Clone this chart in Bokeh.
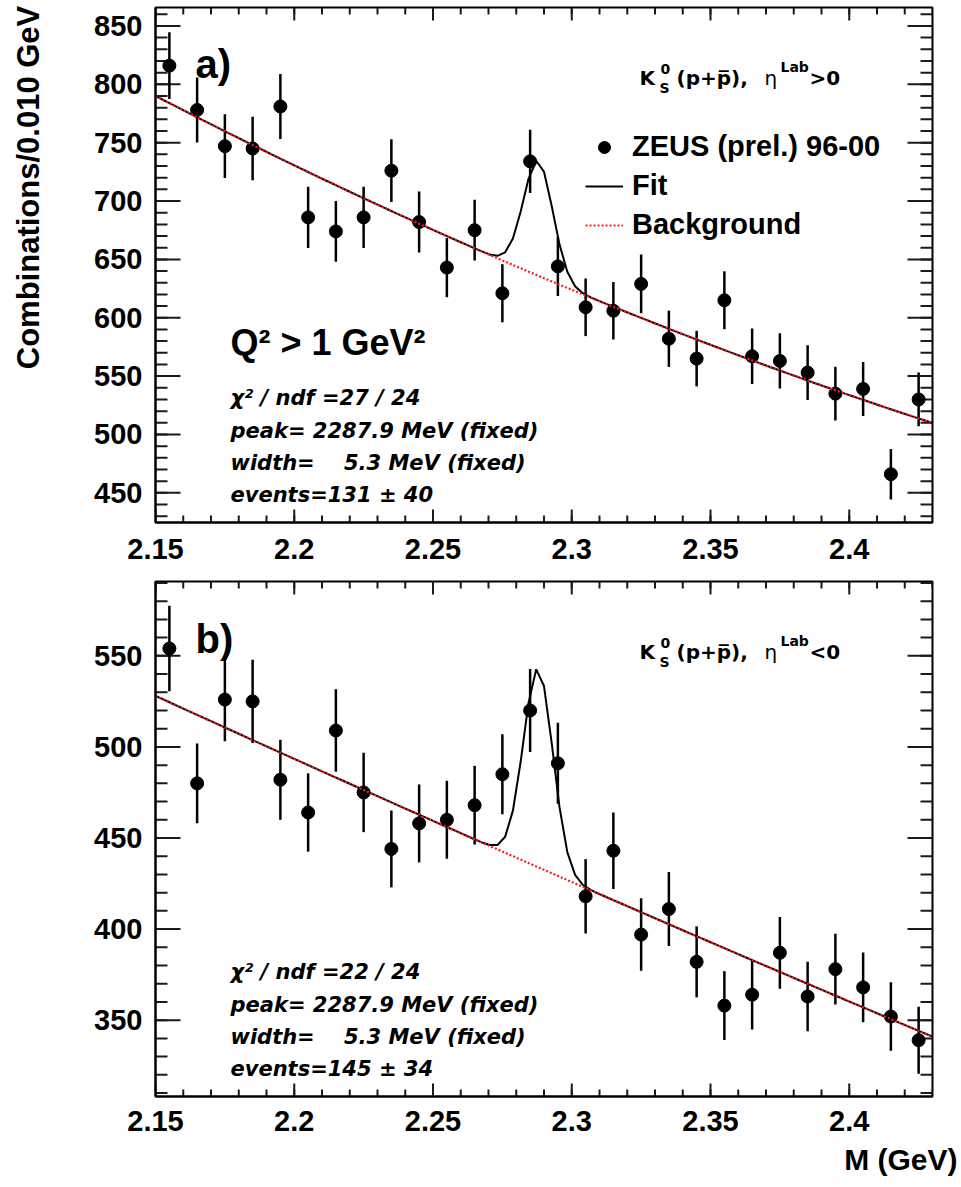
import math

import numpy as np
from bokeh.embed import file_html
from bokeh.layouts import column
from bokeh.models import (ColumnDataSource, CustomJSTickFormatter, FixedTicker, Label,
                          Legend, LegendItem, Range1d, Title)
from bokeh.plotting import figure
from bokeh.resources import INLINE

# ---------------------------------------------------------------------------
# K0S (p + pbar) invariant-mass distributions, 10 MeV bins (bin centres, GeV)
# ---------------------------------------------------------------------------
mass = [2.155, 2.165, 2.175, 2.185, 2.195, 2.205, 2.215, 2.225, 2.235, 2.245,
        2.255, 2.265, 2.275, 2.285, 2.295, 2.305, 2.315, 2.325, 2.335, 2.345,
        2.355, 2.365, 2.375, 2.385, 2.395, 2.405, 2.415, 2.425]

# panel a): eta_lab > 0
counts_fwd = [816, 778, 747, 745, 781, 686, 674, 686, 726, 682,
              643, 675, 621, 734, 644, 609, 606, 629, 582, 565,
              615, 567, 563, 553, 535, 539, 466, 530]
errors_fwd = [28.6, 27.9, 27.3, 27.3, 27.9, 26.2, 26.0, 26.2, 26.9, 26.1,
              25.4, 26.0, 24.9, 27.1, 25.4, 24.7, 24.6, 25.1, 24.1, 23.8,
              24.8, 23.8, 23.7, 23.5, 23.1, 23.2, 21.6, 23.0]

# panel b): eta_lab < 0
counts_bwd = [554, 480, 526, 525, 482, 464, 509, 475, 444, 458,
              460, 468, 485, 520, 491, 418, 443, 397, 411, 382,
              358, 364, 387, 363, 378, 368, 352, 339]
errors_bwd = [23.5, 21.9, 22.9, 22.9, 22.0, 21.5, 22.6, 21.8, 21.1, 21.4,
              21.4, 21.6, 22.0, 22.8, 22.2, 20.4, 21.0, 19.9, 20.3, 19.5,
              18.9, 19.1, 19.7, 19.1, 19.4, 19.2, 18.8, 18.4]

# Fit: Gaussian signal (fixed mass and width) on a smooth background
peak_gev = 2.2879
width_gev = 0.0053
bin_width = 0.010
events_fwd = 131
events_bwd = 145
# background polynomial coefficients in (M - 2.15 GeV)
bkg_fwd = [790.0, -1229.0, 816.0]
bkg_bwd = [528.0, -696.0, 100.0]

# Axes
x_range = (2.15, 2.43)
x_ticks = [2.15, 2.2, 2.25, 2.3, 2.35, 2.4]
x_tick_labels = ["2.15", "2.2", "2.25", "2.3", "2.35", "2.4"]
x_minor = [round(2.15 + 0.01 * i, 2) for i in range(29)]

y_range_fwd = (424.6, 865.8)
y_ticks_fwd = [450, 500, 550, 600, 650, 700, 750, 800, 850]
y_minor_fwd = list(range(430, 861, 10))

y_range_bwd = (308.1, 590.8)
y_ticks_bwd = [350, 400, 450, 500, 550]
y_minor_bwd = list(range(310, 591, 10))

FRAME_W, FRAME_H = 777, 515
BIG_FONT = "Liberation Sans"
SMALL_FONT = "DejaVu Sans"


def fit_curve(bkg, events):
    m = np.linspace(x_range[0], x_range[1], 101)
    t = m - x_range[0]
    background = bkg[0] + bkg[1] * t + bkg[2] * t ** 2
    amp = events * bin_width / (math.sqrt(2 * math.pi) * width_gev)
    signal = amp * np.exp(-0.5 * ((m - peak_gev) / width_gev) ** 2)
    return m, background + signal, background


def style_axis(ax):
    ax.axis_line_width = 2
    ax.axis_line_color = "black"
    ax.major_tick_in = 0
    ax.major_tick_out = 0
    ax.minor_tick_in = 0
    ax.minor_tick_out = 0
    ax.major_label_text_font = BIG_FONT
    ax.major_label_text_font_style = "bold"
    ax.major_label_text_font_size = "29px"
    ax.major_label_text_color = "black"


def add_text(p, x, y, text, size, font=BIG_FONT, style="bold", angle=0.0):
    p.add_layout(Label(x=x, y=y, x_units="screen", y_units="screen", text=text,
                       text_font=font, text_font_style=style,
                       text_font_size=f"{size}px", text_color="black",
                       text_align="left", text_baseline="alphabetic", angle=angle))


def add_inner_ticks(p, y_rng, y_ticks, y_minor):
    """ROOT-style ticks pointing into the frame on all four sides,
    drawn as dash markers centred half a tick length inside the frame."""
    xa, xb = x_range
    ya, yb = y_rng
    dx = (xb - xa) / FRAME_W      # data units per pixel
    dy = (yb - ya) / FRAME_H
    xs, ys, sizes, angles = [], [], [], []
    for pos, n in ((x_ticks, 13), (x_minor, 7)):
        for x in pos:
            xs += [x, x]
            ys += [ya + 0.5 * n * dy, yb - 0.5 * n * dy]
            sizes += [n, n]
            angles += [math.pi / 2, math.pi / 2]
    for pos, n in ((y_ticks, 25), (y_minor, 12)):
        for y in pos:
            xs += [xa + 0.5 * n * dx, xb - 0.5 * n * dx]
            ys += [y, y]
            sizes += [n, n]
            angles += [0.0, 0.0]
    ticks = ColumnDataSource(dict(x=xs, y=ys, size=sizes, angle=angles))
    p.scatter(x="x", y="y", size="size", angle="angle", marker="dash", source=ticks,
              line_color="#1a1a1a", line_width=2)


def make_panel(counts, errors, bkg, events, y_rng, y_ticks, y_minor,
               border_top, border_bottom, label_standoff):
    p = figure(frame_width=FRAME_W, frame_height=FRAME_H,
               x_range=Range1d(*x_range), y_range=Range1d(*y_rng),
               output_backend="svg", toolbar_location=None,
               min_border_left=155, min_border_right=29,
               min_border_top=border_top, min_border_bottom=border_bottom,
               background_fill_color="white", border_fill_color="white")
    p.xgrid.visible = False
    p.ygrid.visible = False
    p.outline_line_color = "black"
    p.outline_line_width = 2

    p.xaxis.ticker = FixedTicker(ticks=x_ticks)
    p.yaxis.ticker = FixedTicker(ticks=y_ticks)
    p.xaxis.major_label_overrides = dict(zip(x_ticks, x_tick_labels))
    p.xaxis.formatter = CustomJSTickFormatter(code="return String(Number(tick.toFixed(3)))")
    style_axis(p.xaxis[0])
    style_axis(p.yaxis[0])
    p.xaxis.major_label_standoff = label_standoff
    p.yaxis.major_label_standoff = 13

    add_inner_ticks(p, y_rng, y_ticks, y_minor)

    src = ColumnDataSource(dict(
        m=mass, n=counts,
        lo=[c - e for c, e in zip(counts, errors)],
        hi=[c + e for c, e in zip(counts, errors)],
    ))
    p.segment(x0="m", y0="lo", x1="m", y1="hi", source=src,
              line_color="black", line_width=2.5)
    pts = p.scatter("m", "n", source=src, size=13, marker="circle",
                    fill_color="black", line_color="black")

    m, total, background = fit_curve(bkg, events)
    fit = p.line(m, total, line_color="black", line_width=2)
    bg = p.line(m, background, line_color="#ff1a1a", line_width=2.2, line_dash="2 2")
    return p, pts, fit, bg


def add_stats(p, chi2, ndf, events, err):
    lines = [
        f"\u03c7\u00b2 / ndf ={chi2} / {ndf}",
        f"peak= {peak_gev * 1000:.1f} MeV (fixed)",
        "width=\u00a0\u00a0\u00a0\u00a0" + f"{width_gev * 1000:.1f} MeV (fixed)",
        f"events={events} \u00b1 {err}",
    ]
    for text, y in zip(lines, [125, 92, 60, 28]):
        add_text(p, 75, y, text, 21, font=SMALL_FONT, style="bold italic")


def add_reaction(p, sign):
    add_text(p, 484, 445, "K", 20, font=SMALL_FONT)
    add_text(p, 505, 454, "0", 14, font=SMALL_FONT)
    add_text(p, 504, 435, "S", 14, font=SMALL_FONT)
    add_text(p, 521, 445, "(p+p\u0305),", 20, font=SMALL_FONT)
    add_text(p, 609, 445, "\u03b7", 20, font=SMALL_FONT, style="normal")
    add_text(p, 625, 456, "Lab", 14, font=SMALL_FONT)
    add_text(p, 654, 445, sign + "0", 20, font=SMALL_FONT)


# ---- panel a) -------------------------------------------------------------
p1, pts1, fit1, bg1 = make_panel(counts_fwd, errors_fwd, bkg_fwd, events_fwd,
                                 y_range_fwd, y_ticks_fwd, y_minor_fwd, 7, 52, 16)
add_text(p1, 40, 459, "a)", 40)
add_text(p1, 75, 180, "Q\u00b2 > 1 GeV\u00b2", 36)
add_stats(p1, 27, 24, events_fwd, 40)
add_reaction(p1, ">")

# axis title sits towards the upper end of the axis (leading no-break spaces)
yax = p1.yaxis[0]
yax.axis_label = "\u00a0" * 18 + "Combinations/0.010 GeV"
yax.axis_label_text_font = BIG_FONT
yax.axis_label_text_font_style = "bold"
yax.axis_label_text_font_size = "31px"
yax.axis_label_text_color = "black"
yax.axis_label_standoff = 45

legend = Legend(items=[
    LegendItem(label="ZEUS (prel.) 96-00", renderers=[pts1]),
    LegendItem(label="Fit", renderers=[fit1]),
    LegendItem(label="Background", renderers=[bg1]),
], location=(430, 281))
legend.label_text_font = BIG_FONT
legend.label_text_font_style = "bold"
legend.label_text_font_size = "29px"
legend.label_text_color = "black"
legend.glyph_width = 38
legend.glyph_height = 30
legend.label_height = 30
legend.label_standoff = 9
legend.spacing = 6
legend.padding = 0
legend.margin = 0
legend.border_line_alpha = 0
legend.background_fill_alpha = 0
p1.add_layout(legend)

# ---- panel b) -------------------------------------------------------------
p2, pts2, fit2, bg2 = make_panel(counts_bwd, errors_bwd, bkg_bwd, events_bwd,
                                 y_range_bwd, y_ticks_bwd, y_minor_bwd, 7, 91, 14)
add_text(p2, 40, 458, "b)", 40)
add_stats(p2, 22, 24, events_bwd, 34)
add_reaction(p2, "<")
p2.add_layout(Title(text="M (GeV)", align="right", offset=-25, vertical_align="bottom",
                    standoff=15, text_font=BIG_FONT, text_font_style="bold",
                    text_font_size="30px", text_color="black"), "below")

layout = column(p1, p2)
open("out.html", "w").write(file_html(layout, INLINE))
